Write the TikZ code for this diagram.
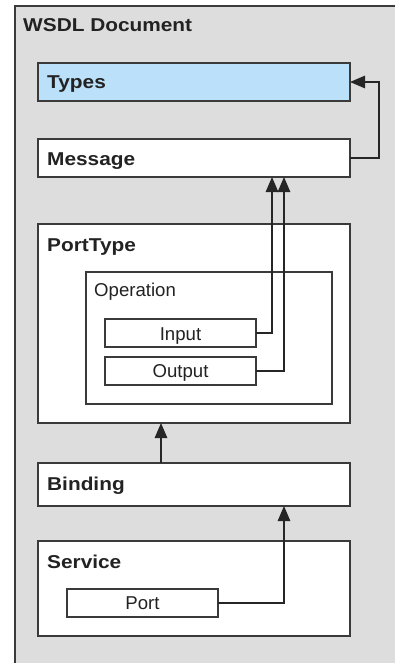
\documentclass[tikz,border=0pt]{standalone}
\usepackage{fontspec}
\setmainfont{Liberation Sans}
\newfontfamily\boldlab[FakeStretch=1.12]{Liberation Sans}
\usetikzlibrary{arrows.meta}
\definecolor{bggray}{HTML}{DCDDDC}
\definecolor{typesblue}{HTML}{BBE0FA}
\definecolor{edgegray}{HTML}{3A3A3A}
\definecolor{txtgray}{HTML}{222222}
\tikzset{
  box/.style={draw=edgegray, line width=1.5pt, fill=white, anchor=north west, inner sep=0pt, outer sep=0pt},
  blab/.style={anchor=base west, inner sep=0pt, text=txtgray, font=\boldlab\bfseries\fontsize{18.6}{20}\selectfont},
  nlab/.style={anchor=base, inner sep=0pt, text=txtgray, font=\fontsize{18.6}{20}\selectfont},
  conn/.style={draw=black!85, line width=1.3pt, -{Triangle[length=15pt,width=12.5pt]}},
}
\begin{document}
\begin{tikzpicture}[x=1pt,y=-1pt]
\useasboundingbox (0,0) rectangle (395,663);
\fill[bggray] (15,6.5) rectangle (395,663);
\draw[edgegray, line width=2pt] (15,663) -- (15,6.5) -- (395,6.5);
\node[blab] (title) at (23,32) {WSDL Document};

\node[box, fill=typesblue, minimum width=312pt, minimum height=38pt] (types) at (38,63) {};
\node[box, minimum width=312pt, minimum height=38pt] (message) at (38,139) {};
\node[box, minimum width=312pt, minimum height=199pt] (porttype) at (38,224) {};
\node[box, minimum width=246pt, minimum height=132pt] (operation) at (86,272) {};
\node[box, minimum width=151pt, minimum height=28pt] (input) at (105,319) {};
\node[box, minimum width=151pt, minimum height=28pt] (output) at (105,357) {};
\node[box, minimum width=312pt, minimum height=43pt] (binding) at (38,463) {};
\node[box, minimum width=312pt, minimum height=95pt] (service) at (38,541) {};
\node[box, minimum width=151pt, minimum height=28pt] (port) at (67,589) {};

\node[blab] (typeslab) at (47,88.5) {Types};
\node[blab] (messagelab) at (47,165) {Message};
\node[blab] (porttypelab) at (47,251.5) {PortType};
\node[nlab, anchor=base west] (operationlab) at (94,296.5) {Operation};
\node[nlab] (inputlab) at (180.5,340) {Input};
\node[nlab] (outputlab) at (180.5,377.5) {Output};
\node[blab] (bindinglab) at (47,490) {Binding};
\node[blab] (servicelab) at (47,568) {Service};
\node[nlab] (portlab) at (142.5,609) {Port};

\draw[conn] (message.east) -- ++(29,0) coordinate (mt) -- (mt |- types.east) -- (types.east);
\draw[conn] (input.east) -- ++(16,0) coordinate (im) -- (im |- message.south);
\draw[conn] (output.east) -- ++(28,0) coordinate (om) -- (om |- message.south);
\draw[conn] ([xshift=-33pt]binding.north) -- ([xshift=-33pt]porttype.south);
\draw[conn] (port.east) -- ++(66,0) coordinate (pb) -- (pb |- binding.south);
\end{tikzpicture}
\end{document}
